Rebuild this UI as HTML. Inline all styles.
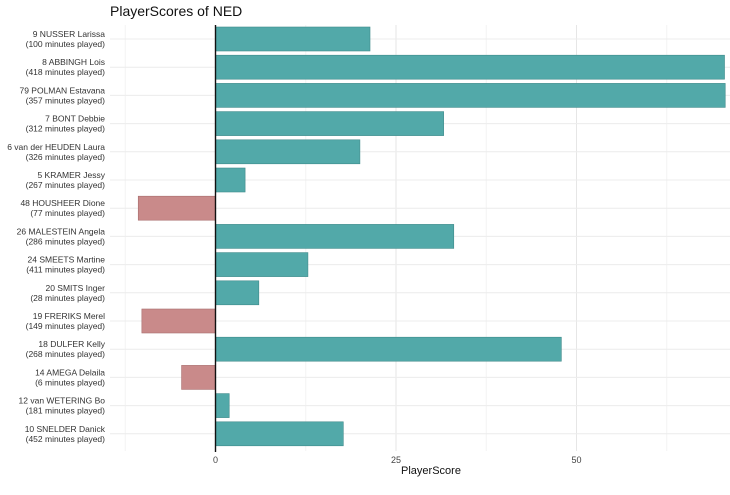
<!DOCTYPE html>
<html><head><meta charset="utf-8"><style>
body{margin:0;background:#fff;font-family:"Liberation Sans",sans-serif}
</style></head><body>
<svg id="c" width="730" height="490" xmlns="http://www.w3.org/2000/svg" font-family="Liberation Sans, sans-serif"></svg>
<script>
const players=["9 NUSSER Larissa","8 ABBINGH Lois","79 POLMAN Estavana","7 BONT Debbie","6 van der HEUDEN Laura","5 KRAMER Jessy","48 HOUSHEER Dione","26 MALESTEIN Angela","24 SMEETS Martine","20 SMITS Inger","19 FRERIKS Merel","18 DULFER Kelly","14 AMEGA Delaila","12 van WETERING Bo","10 SNELDER Danick"];
const minutes=[100,418,357,312,326,267,77,286,411,28,149,268,6,181,452];
const scores=[21.4,70.5,70.6,31.6,20.0,4.1,-10.7,33.0,12.8,6.0,-10.2,47.9,-4.7,1.9,17.7];
const xTicks=[0,25,50];
const minorTicks=[-12.5,12.5,37.5,62.5];
const svg=document.getElementById('c');
const NS='http://www.w3.org/2000/svg';
const x=v=>215.5+v*7.22;
const y=i=>39+i*28.2;
function el(t,a,p){const e=document.createElementNS(NS,t);for(const k in a)e.setAttribute(k,a[k]);(p||svg).appendChild(e);return e;}
const t=el('text',{x:110,y:16,'font-size':14,fill:'#111'});t.textContent='PlayerScores of NED';


minorTicks.forEach(v=>{const l=el('line',{x1:x(v),x2:x(v),y1:25,y2:451,stroke:'#f3f3f3','stroke-width':1});

});
xTicks.forEach(v=>{const l=el('line',{x1:x(v),x2:x(v),y1:25,y2:451,stroke:'#e6e6e6','stroke-width':1});


const tx=el('text',{x:x(v),y:463,'font-size':9,'text-anchor':'middle',fill:'#444'});tx.textContent=v;

});
players.forEach((p,i)=>{
const g=el('line',{x1:110,x2:730,y1:y(i),y2:y(i),stroke:'#ececec'});


const v=scores[i];
const r=el('rect',{x:Math.min(x(0),x(v)),y:y(i)-12,width:Math.abs(x(v)-x(0)),height:24,fill:v>=0?'#52a9a9':'#c98a8a',stroke:v>=0?'#3f8a8a':'#a86e6e','stroke-width':0.6});


const a=el('text',{x:105,y:y(i)-2,'font-size':8.5,'text-anchor':'end',fill:'#333'});a.textContent=p;


const b=el('text',{x:105,y:y(i)+8,'font-size':8.5,'text-anchor':'end',fill:'#333'});b.textContent='('+minutes[i]+' minutes played)';


});
const ax=el('line',{x1:x(0),x2:x(0),y1:25,y2:452,stroke:'#111','stroke-width':1.4});


const xt=el('text',{x:431,y:474,'font-size':11,'text-anchor':'middle',fill:'#111'});xt.textContent='PlayerScore';


</script>
</body></html>
